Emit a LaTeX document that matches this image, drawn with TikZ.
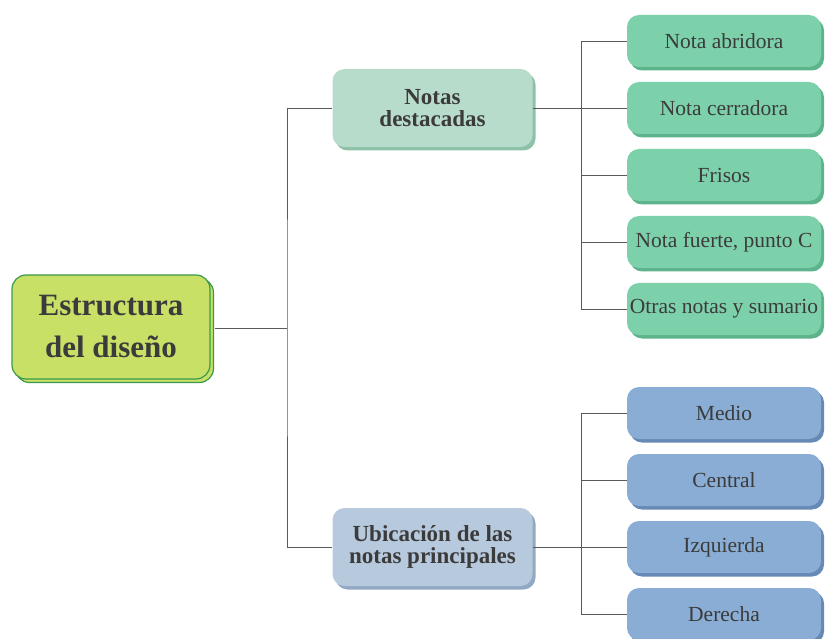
\documentclass[tikz,border=0pt]{standalone}
\usepackage{fontspec}
\setmainfont{Liberation Serif}
\usetikzlibrary{shadows}
\definecolor{txt}{HTML}{3B3B3B}
\definecolor{rootfill}{HTML}{C8E066}
\definecolor{rootedge}{HTML}{3A9A4C}
\definecolor{midgfill}{HTML}{B8DCCB}
\definecolor{midgshad}{HTML}{8EC2A8}
\definecolor{midbfill}{HTML}{B7C9DD}
\definecolor{midbshad}{HTML}{93A9C3}
\definecolor{leafgfill}{HTML}{7DD1AA}
\definecolor{leafgshad}{HTML}{5DB38B}
\definecolor{leafbfill}{HTML}{89ADD4}
\definecolor{leafbshad}{HTML}{6689B5}
\definecolor{wire}{HTML}{5A5A5A}
\tikzset{
  rootbox/.style={rounded corners=14pt, minimum width=198pt, minimum height=104pt,
    fill=rootfill, draw=rootedge, line width=1.2pt, text=txt, align=center,
    font=\bfseries\fontsize{31}{42}\selectfont,
    general shadow={shadow xshift=3.5pt, shadow yshift=-3.5pt, fill=rootfill, draw=rootedge, line width=1.2pt}},
  midbox/.style={rounded corners=12pt, minimum width=200pt, minimum height=78pt,
    text=txt, align=center, font=\bfseries\fontsize{23}{22.5}\selectfont},
  leafbox/.style={rounded corners=12pt, minimum width=194pt, minimum height=52pt,
    inner xsep=1pt, text=txt, align=center, font=\fontsize{21.5}{24}\selectfont},
  gshad/.style={general shadow={shadow xshift=3pt, shadow yshift=-3.5pt, fill=#1}},
  wireline/.style={draw=wire, line width=0.9pt},
}
\begin{document}
\begin{tikzpicture}[x=1pt,y=-1pt]
\useasboundingbox (0,0) rectangle (825,639);
% root
\node[rootbox] (root) at (111,327) {Estructura\\del diseño};
% middle
\node[midbox, fill=midgfill, gshad=midgshad] (notas) at (432.5,108) {Notas\\destacadas};
\node[midbox, fill=midbfill, gshad=midbshad] (ubic) at (432.5,547) {Ubicación de las\\notas principales};
% green leaves
\node[leafbox, fill=leafgfill, gshad=leafgshad] (g1) at (724,41) {Nota abridora};
\node[leafbox, fill=leafgfill, gshad=leafgshad] (g2) at (724,108) {Nota cerradora};
\node[leafbox, fill=leafgfill, gshad=leafgshad] (g3) at (724,175) {Frisos};
\node[leafbox, fill=leafgfill, gshad=leafgshad] (g4) at (724,242) {Nota fuerte, punto C};
\node[leafbox, fill=leafgfill, gshad=leafgshad] (g5) at (724,309) {Otras notas y sumario};
% blue leaves
\node[leafbox, fill=leafbfill, gshad=leafbshad] (b1) at (724,413) {Medio};
\node[leafbox, fill=leafbfill, gshad=leafbshad] (b2) at (724,480) {Central};
\node[leafbox, fill=leafbfill, gshad=leafbshad] (b3) at (724,547) {Izquierda};
\node[leafbox, fill=leafbfill, gshad=leafbshad] (b4) at (724,614) {Derecha};
% junction coordinates
\coordinate (jl) at (287,328);
\coordinate (jg) at (581,108);
\coordinate (jb) at (581,547);
% connectors
\draw[wireline] ([xshift=4pt]root.east |- jl) -- (jl);
\draw[wireline] (notas.west) -| (jl) |- (ubic.west);
\draw[wireline] (notas.east) -- (jg);
\draw[wireline] (ubic.east) -- (jb);
\draw[wireline] (g1.west) -| (jg);
\draw[wireline] (g5.west) -| (jg);
\draw[wireline] (jg) |- (g2.west);
\draw[wireline] (jg |- g3.west) -- (g3.west);
\draw[wireline] (jg |- g4.west) -- (g4.west);
\draw[wireline] (b1.west) -| (jb);
\draw[wireline] (b4.west) -| (jb);
\draw[wireline] (jb |- b2.west) -- (b2.west);
\draw[wireline] (jb |- b3.west) -- (b3.west);
\end{tikzpicture}
\end{document}
